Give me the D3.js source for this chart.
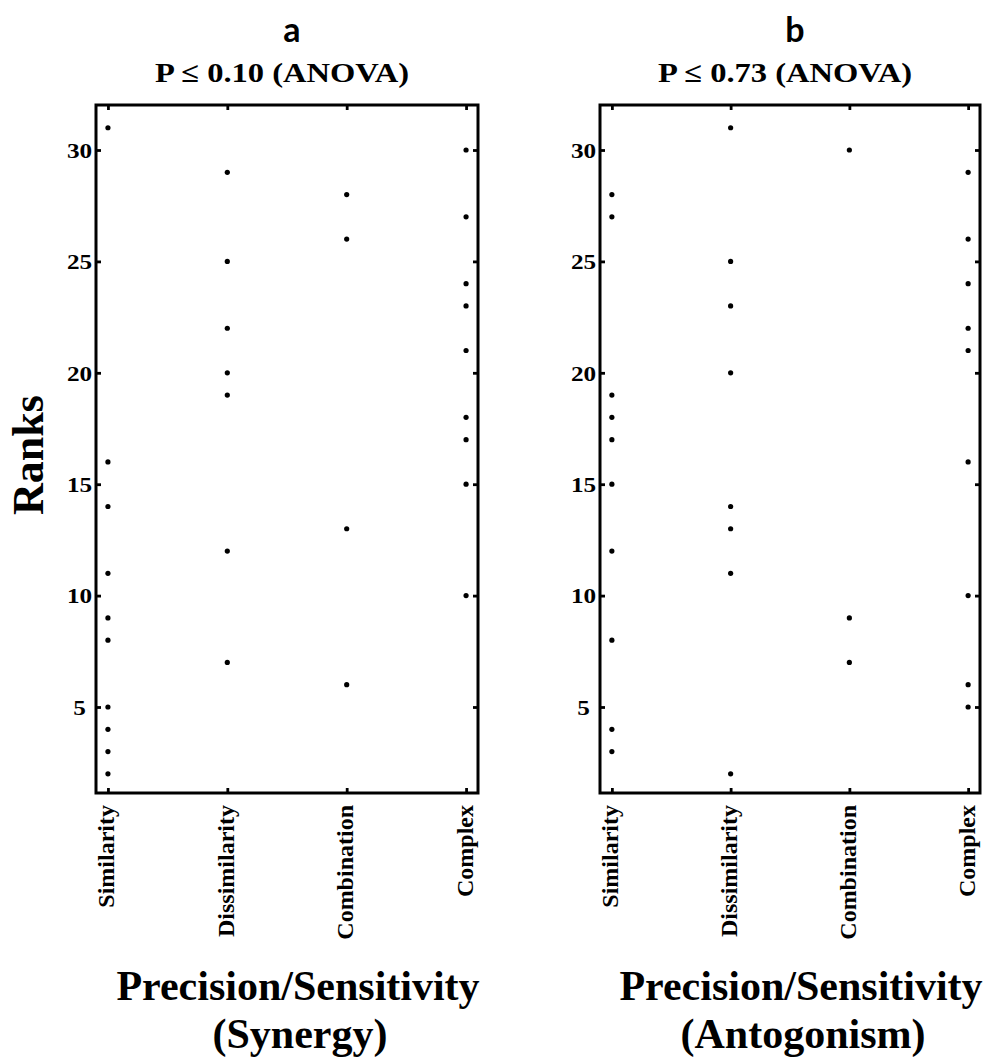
<!DOCTYPE html>
<html>
<head>
<meta charset="utf-8">
<script src="https://cdn.jsdelivr.net/npm/d3@7"></script>
<style>
  html, body { margin: 0; padding: 0; background: #fff; }
  svg { display: block; }
  .serif { font-family: "Liberation Serif", "Times New Roman", serif; font-weight: bold; fill: #000; }
  .sans { font-family: Lato, "Open Sans", sans-serif; font-weight: bold; fill: #000; }
</style>
</head>
<body>
<svg id="chart" width="991" height="1059"></svg>
<script>
// Groups along the x axis
const categories = ["Similarity", "Dissimilarity", "Combination", "Complex"];

// Ranks per group, synergy panel
const synergySimilarity    = [31, 16, 14, 11, 9, 8, 5, 4, 3, 2];
const synergyDissimilarity = [29, 25, 22, 20, 19, 12, 7];
const synergyCombination   = [28, 26, 13, 6];
const synergyComplex       = [30, 27, 24, 23, 21, 18, 17, 15, 10];

// Ranks per group, antagonism panel
const antagSimilarity    = [28, 27, 19, 18, 17, 15, 12, 8, 4, 3];
const antagDissimilarity = [31, 25, 23, 20, 14, 13, 11, 2];
const antagCombination   = [30, 9, 7];
const antagComplex       = [29, 26, 24, 22, 21, 16, 10, 6, 5];

const yTickValues = [5, 10, 15, 20, 25, 30];

const panels = [
  {
    letter: "a",
    title: "P \u2264 0.10 (ANOVA)",
    xlabel1: "Precision/Sensitivity",
    xlabel2: "(Synergy)",
    groups: [synergySimilarity, synergyDissimilarity, synergyCombination, synergyComplex],
    left: 96, right: 478
  },
  {
    letter: "b",
    title: "P \u2264 0.73 (ANOVA)",
    xlabel1: "Precision/Sensitivity",
    xlabel2: "(Antogonism)",
    groups: [antagSimilarity, antagDissimilarity, antagCombination, antagComplex],
    left: 600, right: 980
  }
];

const plotTop = 105, plotBottom = 793;
const svg = d3.select("#chart");

const y = d3.scaleLinear().domain([1.14, 32.02]).range([plotBottom, plotTop]);

panels.forEach(p => {
  const x = d3.scaleLinear().domain([0.9, 4.1]).range([p.left, p.right]);
  const cx = (p.left + p.right) / 2;
  const g = svg.append("g");

  // Left axis with labels
  const axL = g.append("g").attr("transform", `translate(${p.left},0)`)
    .call(d3.axisLeft(y).tickValues(yTickValues).tickSizeInner(-5).tickSizeOuter(0));
  axL.selectAll("text")
    .attr("class", "serif")
    .attr("x", null).attr("dy", null)
    .attr("text-anchor", "middle")
    .attr("dominant-baseline", "central")
    .attr("transform", "translate(-16.5,0) scale(1.2,1)")
    .style("font-size", "21px");

  // Right axis, ticks only
  g.append("g").attr("transform", `translate(${p.right},0)`)
    .call(d3.axisRight(y).tickValues(yTickValues).tickSizeInner(-5).tickSizeOuter(0).tickFormat(""));

  // Top axis, ticks only
  g.append("g").attr("transform", `translate(0,${plotTop})`)
    .call(d3.axisTop(x).tickValues([1, 2, 3, 4]).tickSizeInner(-5).tickSizeOuter(0).tickFormat(""));

  // Bottom axis with rotated category labels
  const axB = g.append("g").attr("transform", `translate(0,${plotBottom})`)
    .call(d3.axisBottom(x).tickValues([1, 2, 3, 4]).tickSizeInner(-5).tickSizeOuter(0)
      .tickFormat(d => categories[d - 1]));
  axB.selectAll("text")
    .attr("class", "serif")
    .attr("x", null).attr("y", null).attr("dy", null)
    .attr("text-anchor", "end")
    .attr("transform", "translate(6,12) rotate(-90)")
    .style("font-size", "24px");

  g.selectAll(".domain").remove();
  g.selectAll(".tick line").attr("stroke", "#000").attr("stroke-width", 2.8);

  // Plot frame
  g.append("rect")
    .attr("x", p.left).attr("y", plotTop)
    .attr("width", p.right - p.left).attr("height", plotBottom - plotTop)
    .attr("fill", "none").attr("stroke", "#000").attr("stroke-width", 3);

  // Points
  p.groups.forEach((vals, i) => {
    g.selectAll(null).data(vals).enter().append("circle")
      .attr("cx", x(i + 1)).attr("cy", d => y(d))
      .attr("r", 2.6).attr("fill", "#000");
  });

  // Panel letter and title
  g.append("text").attr("class", "sans")
    .attr("x", cx + 5).attr("y", 42).attr("text-anchor", "middle")
    .style("font-size", "34px").text(p.letter);
  g.append("text").attr("class", "serif")
    .attr("x", cx - 5).attr("y", 82).attr("text-anchor", "middle")
    .attr("textLength", 254).attr("lengthAdjust", "spacingAndGlyphs")
    .style("font-size", "28px").text(p.title);

  // Axis title
  g.append("text").attr("class", "serif")
    .attr("x", cx + 11).attr("y", 1000).attr("text-anchor", "middle")
    .style("font-size", "42px").text(p.xlabel1);
  g.append("text").attr("class", "serif")
    .attr("x", cx + 13).attr("y", 1048).attr("text-anchor", "middle")
    .style("font-size", "42px").text(p.xlabel2);
});

// Shared y axis title
svg.append("text").attr("class", "serif")
  .attr("transform", "translate(43,455) rotate(-90)")
  .attr("text-anchor", "middle")
  .style("font-size", "44px").text("Ranks");
</script>
</body>
</html>
